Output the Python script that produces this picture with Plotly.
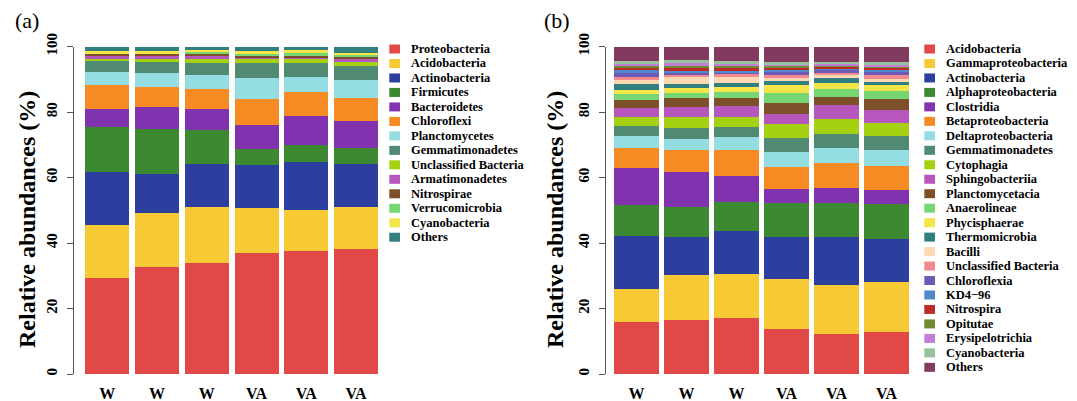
import plotly.graph_objects as go

W, H = 1077, 401

# ---------------- data ----------------
samples = ["W", "W", "W", "VA", "VA", "VA"]

phyla_a = ["Proteobacteria", "Acidobacteria", "Actinobacteria", "Firmicutes",
           "Bacteroidetes", "Chloroflexi", "Planctomycetes", "Gemmatimonadetes",
           "Unclassified Bacteria", "Armatimonadetes", "Nitrospirae",
           "Verrucomicrobia", "Cyanobacteria", "Others"]

proteobacteria_a   = [29.2, 32.6, 34.0, 36.8, 37.6, 38.2]
acidobacteria_a    = [16.3, 16.7, 17.1, 14.0, 12.5, 12.9]
actinobacteria_a   = [16.2, 11.9, 13.0, 12.9, 14.6, 13.0]
firmicutes_a       = [13.6, 13.6, 10.4, 4.9, 5.1, 5.0]
bacteroidetes_a    = [5.6, 6.7, 6.3, 7.4, 8.9, 8.2]
chloroflexi_a      = [7.3, 6.0, 6.1, 8.0, 7.5, 7.0]
planctomycetes_a   = [4.1, 4.4, 4.5, 6.3, 4.6, 5.6]
gemmatimonadetes_a = [3.3, 3.4, 3.7, 4.8, 4.3, 4.2]
unclassified_a     = [0.7, 0.8, 1.0, 1.0, 1.0, 1.3]
armatimonadetes_a  = [0.7, 0.9, 1.0, 0.8, 0.7, 1.2]
nitrospirae_a      = [0.9, 1.0, 1.0, 0.2, 0.3, 0.5]
verrucomicrobia_a  = [0.2, 0.1, 0.1, 0.9, 1.2, 0.5]
cyanobacteria_a    = [0.5, 0.6, 0.7, 0.6, 0.5, 0.5]
others_a           = [1.4, 1.3, 1.1, 1.4, 1.2, 1.9]

classes_b = ["Acidobacteria", "Gammaproteobacteria", "Actinobacteria",
             "Alphaproteobacteria", "Clostridia", "Betaproteobacteria",
             "Deltaproteobacteria", "Gemmatimonadetes", "Cytophagia",
             "Sphingobacteriia", "Planctomycetacia", "Anaerolineae",
             "Phycisphaerae", "Thermomicrobia", "Bacilli",
             "Unclassified Bacteria", "Chloroflexia", "KD4\u221296",
             "Nitrospira", "Opitutae", "Erysipelotrichia", "Cyanobacteria",
             "Others"]

acidobacteria_b       = [16.0, 16.5, 17.0, 13.6, 12.2, 12.7]
gammaproteobacteria_b = [10.0, 13.6, 13.5, 15.3, 15.1, 15.3]
actinobacteria_b      = [16.2, 11.8, 13.2, 12.9, 14.6, 13.1]
alphaproteobacteria_b = [9.5, 9.0, 8.9, 10.4, 10.4, 10.7]
clostridia_b          = [11.2, 10.7, 8.0, 4.4, 4.6, 4.3]
betaproteobacteria_b  = [6.1, 6.7, 7.7, 6.6, 7.4, 7.4]
deltaproteobacteria_b = [3.6, 3.6, 4.0, 4.7, 4.8, 4.8]
gemmatimonadetes_b    = [3.2, 3.1, 3.2, 4.3, 4.3, 4.5]
cytophagia_b          = [2.7, 3.5, 3.0, 4.0, 4.4, 3.8]
sphingobacteriia_b    = [2.7, 2.9, 3.2, 3.1, 4.2, 4.0]
planctomycetacia_b    = [2.6, 2.9, 2.6, 3.5, 2.5, 3.5]
anaerolineae_b        = [1.7, 1.5, 1.8, 3.0, 2.6, 2.3]
phycisphaerae_b       = [1.3, 1.6, 1.4, 2.4, 1.8, 1.8]
thermomicrobia_b      = [1.7, 1.3, 1.4, 1.4, 1.9, 1.4]
bacilli_b             = [1.4, 1.9, 1.7, 0.9, 0.4, 0.4]
unclassified_b        = [0.9, 0.8, 0.9, 0.9, 1.0, 1.6]
chloroflexia_b        = [1.0, 0.9, 0.8, 0.9, 0.5, 0.5]
kd4_96_b              = [1.1, 0.3, 0.3, 0.8, 0.7, 0.9]
nitrospira_b          = [0.9, 1.2, 1.2, 0.2, 0.5, 0.4]
opitutae_b            = [0.3, 0.2, 0.3, 0.9, 0.4, 0.7]
erysipelotrichia_b    = [1.0, 1.4, 1.0, 0.6, 0.4, 0.4]
cyanobacteria_b       = [0.6, 0.4, 0.5, 0.5, 0.7, 0.7]
others_b              = [4.3, 4.2, 4.4, 4.7, 4.6, 4.8]

y_ticks = [0, 20, 40, 60, 80, 100]

# ---------------- style ----------------
C = {
    "red": "#E34848", "yellow": "#F6C935", "blue": "#2D3F9E", "green": "#3C8931",
    "purple": "#8133AF", "orange": "#F68A23", "cyan": "#93DDE3", "gemm": "#518A72",
    "lime": "#A4D111", "pinkpurple": "#B757BE", "brown": "#7D5029",
    "lightgreen": "#76D671", "yellow2": "#F4E548", "teal": "#327F80",
    "peach": "#FDD9B3", "pink": "#F38B8E", "slate": "#6B5BB6", "sky": "#4F89CB",
    "darkred": "#BE2B26", "olive": "#6E8B33", "lilac": "#C27DD8",
    "sage": "#95C29A", "plum": "#823B5F",
}
colors_a = [C["red"], C["yellow"], C["blue"], C["green"], C["purple"], C["orange"],
            C["cyan"], C["gemm"], C["lime"], C["pinkpurple"], C["brown"],
            C["lightgreen"], C["yellow2"], C["teal"]]
colors_b = [C["red"], C["yellow"], C["blue"], C["green"], C["purple"], C["orange"],
            C["cyan"], C["gemm"], C["lime"], C["pinkpurple"], C["brown"],
            C["lightgreen"], C["yellow2"], C["teal"], C["peach"], C["pink"],
            C["slate"], C["sky"], C["darkred"], C["olive"], C["lilac"], C["sage"],
            C["plum"]]

series_a = [proteobacteria_a, acidobacteria_a, actinobacteria_a, firmicutes_a,
            bacteroidetes_a, chloroflexi_a, planctomycetes_a, gemmatimonadetes_a,
            unclassified_a, armatimonadetes_a, nitrospirae_a, verrucomicrobia_a,
            cyanobacteria_a, others_a]
series_b = [acidobacteria_b, gammaproteobacteria_b, actinobacteria_b,
            alphaproteobacteria_b, clostridia_b, betaproteobacteria_b,
            deltaproteobacteria_b, gemmatimonadetes_b, cytophagia_b,
            sphingobacteriia_b, planctomycetacia_b, anaerolineae_b,
            phycisphaerae_b, thermomicrobia_b, bacilli_b, unclassified_b,
            chloroflexia_b, kd4_96_b, nitrospira_b, opitutae_b,
            erysipelotrichia_b, cyanobacteria_b, others_b]

SERIF = "Liberation Serif"
xpos = list(range(len(samples)))

fig = go.Figure()
for name, vals, col in zip(phyla_a, series_a, colors_a):
    fig.add_trace(go.Bar(x=xpos, y=vals, name=name, marker=dict(color=col, line=dict(width=0)),
                         xaxis="x", yaxis="y", showlegend=False))
for name, vals, col in zip(classes_b, series_b, colors_b):
    fig.add_trace(go.Bar(x=xpos, y=vals, name=name, marker=dict(color=col, line=dict(width=0)),
                         xaxis="x2", yaxis="y2", showlegend=False))

def px(x):
    return x / W

def py(y):
    return 1 - y / H

y_dom = [py(374), py(46.5)]

xcommon = dict(tickmode="array", tickvals=xpos, ticktext=samples, showline=False,
               showgrid=False, zeroline=False, ticks="", automargin=False,
               tickfont=dict(family=SERIF, size=16, color="black", weight="bold"),
               ticklabelstandoff=8)
ycommon = dict(range=[0, 100], tickmode="array", tickvals=y_ticks, showline=True,
               linecolor="#555555", linewidth=1.3, ticks="outside", ticklen=6,
               tickwidth=1.3, tickcolor="#555555", showgrid=False, zeroline=False,
               tickangle=-90, domain=y_dom, automargin=False,
               tickfont=dict(family=SERIF, size=15, color="black", weight="bold"),
               ticklabelstandoff=4)

fig.update_layout(
    width=W, height=H, margin=dict(l=0, r=0, t=0, b=0, autoexpand=False),
    paper_bgcolor="white", plot_bgcolor="white",
    barmode="stack", bargap=0.116,
    xaxis=dict(domain=[px(73.3), px(382)], range=[-0.68, 5.52], anchor="y", **xcommon),
    yaxis=dict(anchor="free", position=px(73.3), **ycommon),
    xaxis2=dict(domain=[px(605), px(912)], range=[-0.63, 5.51], anchor="y2", **xcommon),
    yaxis2=dict(anchor="free", position=px(605), **ycommon),
)

shapes = []
annotations = []

def legend(names, cols, sx0, sx1, tx, y0, step):
    for i, (n, c) in enumerate(zip(names, cols)):
        yc = y0 + i * step
        shapes.append(dict(type="rect", xref="paper", yref="paper",
                           x0=px(sx0), x1=px(sx1), y0=py(yc + 4.5), y1=py(yc - 4.5),
                           fillcolor=c, line=dict(width=0)))
        annotations.append(dict(xref="paper", yref="paper", x=px(tx), y=py(yc),
                                xanchor="left", yanchor="middle", showarrow=False,
                                text=n, font=dict(family=SERIF, size=12.5, color="black",
                                                  weight="bold")))

legend(phyla_a, colors_a, 389.3, 400, 408.5, 49, 14.48)
legend(classes_b, colors_b, 924.3, 935, 943.5, 49, 14.47)

for xc, lab in [(27, "(a)"), (557, "(b)")]:
    annotations.append(dict(xref="paper", yref="paper", x=px(xc), y=py(20),
                            xanchor="center", yanchor="middle", showarrow=False,
                            text=lab, font=dict(family=SERIF, size=22, color="black")))
for xc in [27, 555]:
    annotations.append(dict(xref="paper", yref="paper", x=px(xc), y=py(220),
                            xanchor="center", yanchor="middle", showarrow=False,
                            textangle=-90, text="Relative abundances (%)",
                            font=dict(family=SERIF, size=24, color="black", weight="bold")))

fig.update_layout(shapes=shapes, annotations=annotations)
fig.write_html("out.html")
